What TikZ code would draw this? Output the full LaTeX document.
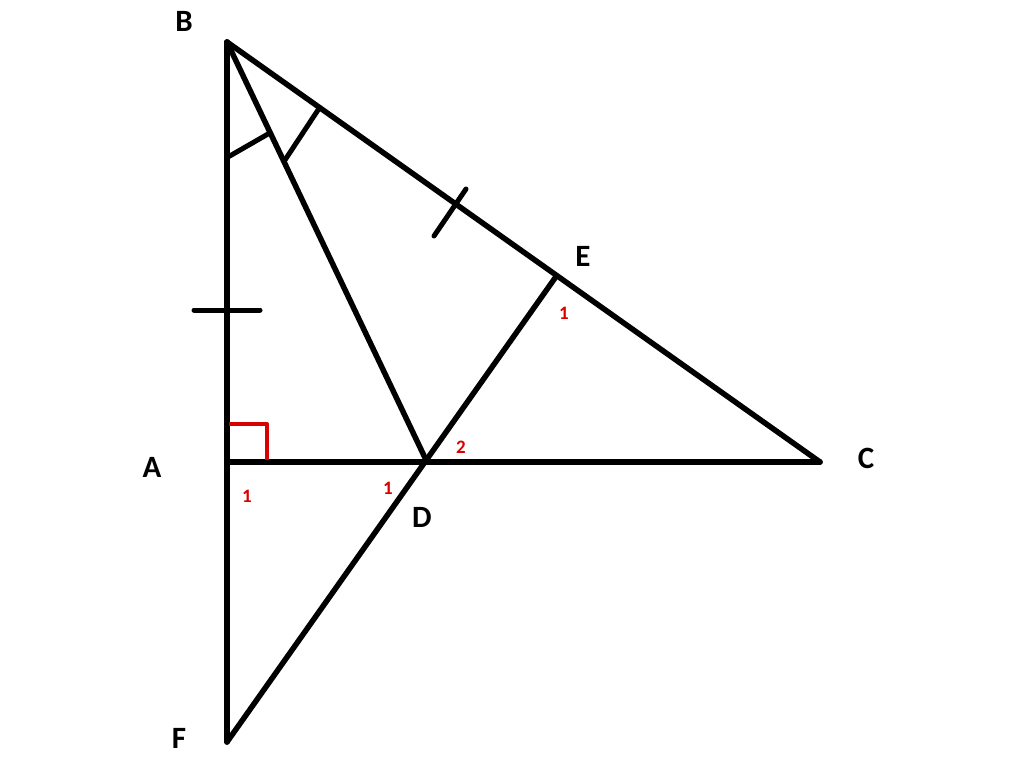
\documentclass[tikz,border=0pt]{standalone}
\usepackage{fontspec}
\setmainfont{Carlito}
\usetikzlibrary{positioning}

\begin{document}
\begin{tikzpicture}[
    x=1pt, y=-1pt,
    edge/.style={line width=5.5pt, line cap=round, line join=round},
    tick/.style={line width=5pt, line cap=round},
    rightmark/.style={red!85!black, line width=4pt, line join=round},
    vertex/.style={inner sep=1pt, font=\fontsize{31}{31}\selectfont\bfseries},
    anglelabel/.style={red!85!black, font=\fontsize{19}{19}\selectfont\bfseries}
]
    \useasboundingbox (0,0) rectangle (1024,757);

    % Points
    \coordinate (B) at (227, 42);
    \coordinate (A) at (227, 462);
    \coordinate (C) at (820, 462);
    \coordinate (F) at (227, 742);
    \coordinate (D) at (427, 462);
    \coordinate (E) at (555, 278);

    % Sides
    \draw[edge] (B) -- (F);
    \draw[edge] (A) -- (C);
    \draw[edge] (B) -- (C);
    \draw[edge] (B) -- (D);
    \draw[edge] (F) -- (E);

    % Equal angles at B
    \draw[tick] (228, 157) -- (268, 134);
    \draw[tick] (285, 160) -- (318, 110);

    % Equal sides
    \draw[tick] (194, 310) -- (260, 310);
    \draw[tick] (434, 236) -- (466, 189);

    % Right angle at A
    \draw[rightmark] (229, 424) -- (267, 424) -- (267, 460);

    % Vertex labels
    \node[vertex] (labB) at (184, 21) {B};
    \node[vertex] (labA) at (152, 467) {A};
    \node[vertex] (labC) at (866, 458) {C};
    \node[vertex] (labD) at (422, 517) {D};
    \node[vertex] (labE) at (583, 256) {E};
    \node[vertex] (labF) at (179, 738) {F};

    % Angle labels
    \node[anglelabel] (angA) at (247, 496) {1};
    \node[anglelabel] (angD1) at (388, 488) {1};
    \node[anglelabel] (angD2) at (461, 447) {2};
    \node[anglelabel] (angE) at (564, 313) {1};

\end{tikzpicture}
\end{document}
